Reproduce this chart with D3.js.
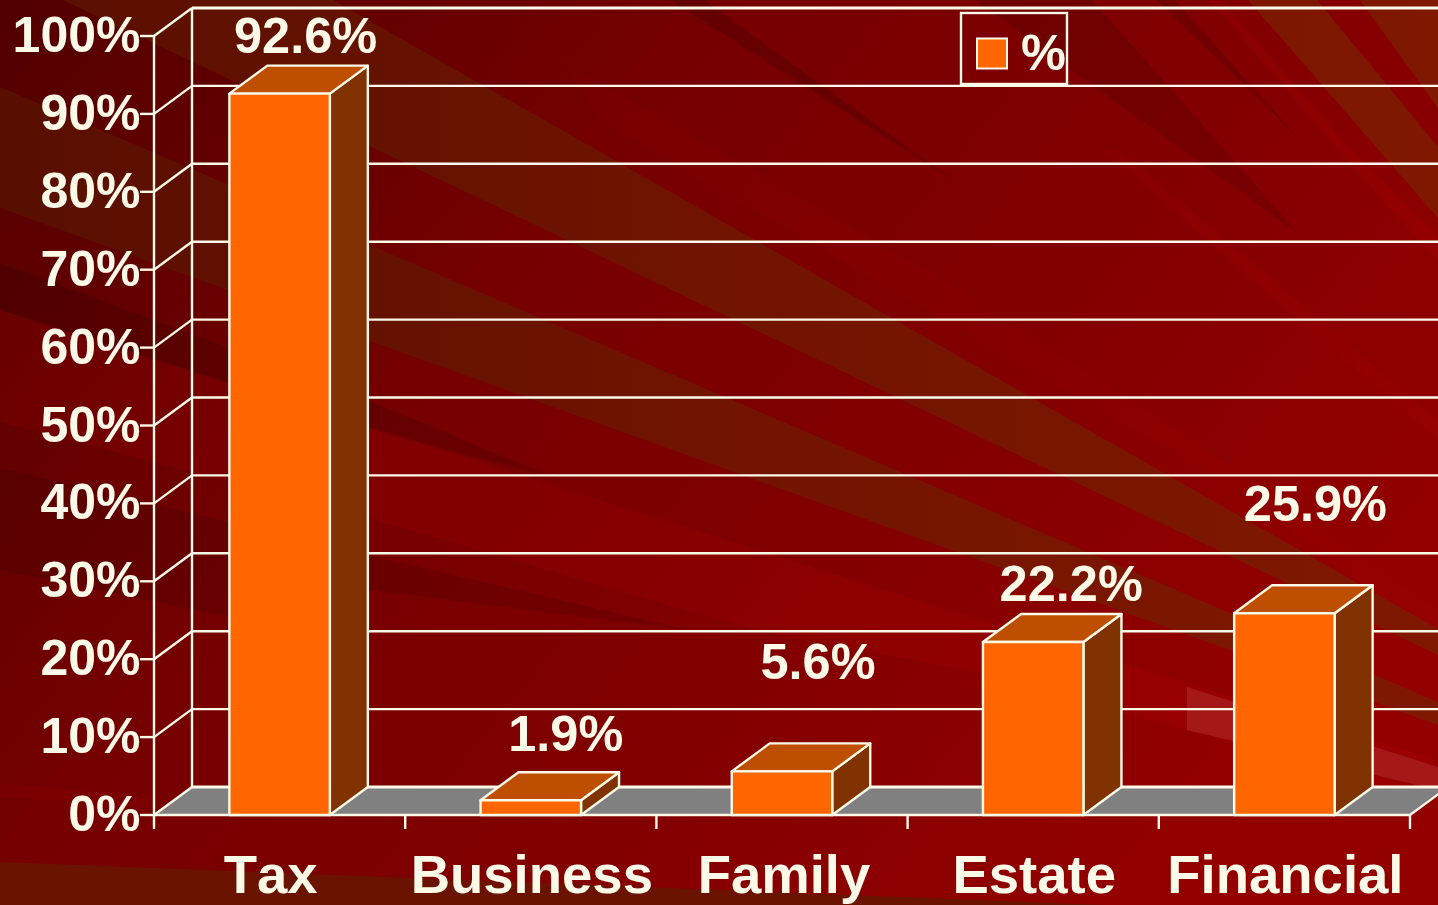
<!DOCTYPE html>
<html><head><meta charset="utf-8">
<script src="https://cdn.jsdelivr.net/npm/d3@7/dist/d3.min.js"></script>
<style>html,body{margin:0;padding:0;background:#700000;overflow:hidden}svg{display:block}
text{font-family:"Liberation Sans",Arial,sans-serif;font-weight:bold;fill:#fbf9e8;font-kerning:none}</style>
</head><body><svg id="c" width="1438" height="905"></svg>
<script>
// ---- data
const categories = ["Tax","Business","Family","Estate","Financial"];
const values = [92.6,1.9,5.6,22.2,25.9];
const valueLabels = ["92.6%","1.9%","5.6%","22.2%","25.9%"];
const yTicks = [0,10,20,30,40,50,60,70,80,90,100];
const legendLabel = "%";
// ---- label placement (hand offsets, as in the original)
const valueLabelDx = [26,35,36,38,31];
const valueLabelDy = [-41,-49,-92,-41,-92];
const categoryLabelDx = [-9,1,2,1,1];
// ---- background decoration
const oliveBands = [
  [[333,0],[1438,629],[1438,655],[63,0]],
  [[0,87],[1438,702],[1438,725],[0,208]],
  [[1248,0],[1317,0],[1438,147],[1438,218]],
  [[1360,0],[1438,0],[1438,108]]
];
const floorWedge = [[0,862],[1105,905],[0,905]];
const brightBands = [
  {p:[[0,310],[368,427],[980,620],[1438,760],[1438,800],[980,673],[755,630],[368,518],[0,422]],f:"#ff0000",o:0.075},
  {p:[[560,60],[960,290],[1230,465],[1438,610],[1438,640],[1220,478],[960,330],[600,120]],f:"#ff0000",o:0.03},
  {p:[[1209,0],[1222,0],[1347,145],[1438,236],[1438,262],[1347,160]],f:"#ff0000",o:0.07},
  {p:[[1103,150],[1120,150],[1438,420],[1438,440]],f:"#ff0000",o:0.05},
  {p:[[0,783],[152,797],[152,807],[0,797]],f:"#ff0000",o:0.05},
  {p:[[1187,687],[1438,767],[1438,790],[1187,730]],f:"#a41818",o:1}
];
const darkBands = [
  {p:[[670,0],[704,0],[960,185]],f:"#000000",o:0.14},
  {p:[[975,0],[1092,0],[1300,235]],f:"#000000",o:0.1},
  {p:[[1157,0],[1175,0],[1300,140]],f:"#000000",o:0.12},
  {p:[[0,263],[368,400],[560,480],[368,428],[0,310]],f:"#000000",o:0.13},
  {p:[[0,468],[368,555],[688,630],[368,590],[230,617],[0,570]],f:"#000000",o:0.11}
];

const W=1438,H=905,depthX=38,depthY=-28;
const cream="#fbf9e8", front="#ff6600", topC="#bf4f00", sideC="#803300", floorC="#808080";
const svg=d3.select("#c");
const defs=svg.append("defs");
const baseG=defs.append("linearGradient").attr("id","base").attr("gradientUnits","userSpaceOnUse")
  .attr("x1",0).attr("y1",0).attr("x2",1100).attr("y2",900);
[[0,"#520000"],[0.23,"#660000"],[0.4,"#760000"],[0.65,"#800000"],[1,"#920000"]]
  .forEach(s=>baseG.append("stop").attr("offset",s[0]).attr("stop-color",s[1]));
const olG=defs.append("linearGradient").attr("id","olive").attr("gradientUnits","userSpaceOnUse")
  .attr("x1",0).attr("y1",0).attr("x2",1438).attr("y2",0);
[[0,"#580f00"],[0.5,"#711400"],[1,"#801800"]].forEach(s=>olG.append("stop").attr("offset",s[0]).attr("stop-color",s[1]));

const poly=p=>"M"+p.map(d=>d.join(",")).join("L")+"Z";
const bg=svg.append("g");
bg.append("rect").attr("width",W).attr("height",H).attr("fill","url(#base)");
bg.selectAll(".b").data(brightBands).join("path").attr("class","b").attr("d",d=>poly(d.p)).attr("fill",d=>d.f).attr("opacity",d=>d.o);
bg.selectAll(".d").data(darkBands).join("path").attr("class","d").attr("d",d=>poly(d.p)).attr("fill",d=>d.f).attr("opacity",d=>d.o);
bg.selectAll(".o").data(oliveBands).join("path").attr("class","o").attr("d",poly).attr("fill","url(#olive)");
bg.append("path").attr("d",poly(floorWedge)).attr("fill","#6a1300");

// ---- scales
const x=d3.scaleBand().domain(categories).range([154,1410]).padding(0);
const y=d3.scaleLinear().domain([0,100]).range([815,36]);
const x0=x.range()[0], x1=x.range()[1], y0=y(0), yTop=y(100);
const barW=x.bandwidth()*0.4;
const sw=2.4;

// ---- floor
svg.append("path").attr("d",poly([[x0,y0],[x0+depthX,y0+depthY],[x1+depthX,y0+depthY],[x1,y0]]))
  .attr("fill",floorC);

const line=(g,a,b,c,d,w=sw)=>g.append("line").attr("x1",a).attr("y1",b).attr("x2",c).attr("y2",d)
  .attr("stroke",cream).attr("stroke-width",w);
const grid=svg.append("g");
grid.selectAll(".g").data(yTicks).join("line").attr("class","g")
  .attr("x1",x0+depthX).attr("x2",x1+depthX+40)
  .attr("y1",d=>y(d)+depthY).attr("y2",d=>y(d)+depthY)
  .attr("stroke",cream).attr("stroke-width",d=>d===100||d===0?3:sw);
grid.selectAll(".s").data(yTicks).join("line").attr("class","s")
  .attr("x1",x0).attr("x2",x0+depthX)
  .attr("y1",d=>y(d)).attr("y2",d=>y(d)+depthY)
  .attr("stroke",cream).attr("stroke-width",sw);
line(grid,x0+depthX,yTop+depthY,x0+depthX,y0+depthY);
line(grid,x0,yTop,x0,y0+14);
line(grid,x0,y0,x1,y0);
line(grid,x1,y0,x1+depthX,y0+depthY);
grid.selectAll(".tick").data(yTicks).join("line").attr("class","tick")
  .attr("x1",x0-14).attr("x2",x0)
  .attr("y1",d=>y(d)).attr("y2",d=>y(d))
  .attr("stroke",cream).attr("stroke-width",sw);
grid.selectAll(".xtick").data(categories).join("line").attr("class","xtick")
  .attr("x1",d=>x(d)+x.bandwidth()).attr("x2",d=>x(d)+x.bandwidth())
  .attr("y1",y0).attr("y2",y0+14)
  .attr("stroke",cream).attr("stroke-width",sw);

// ---- bars
const bars=svg.append("g").selectAll("g").data(categories.map((c,i)=>({c,i,v:values[i]}))).join("g")
  .attr("stroke",cream).attr("stroke-width",sw).attr("stroke-linejoin","round");
const L=d=>x(d.c)+(x.bandwidth()-barW)/2, R=d=>L(d)+barW;
bars.append("path").attr("fill",sideC).attr("d",d=>poly([[R(d),y(d.v)],[R(d)+depthX,y(d.v)+depthY],[R(d)+depthX,y0+depthY],[R(d),y0]]));
bars.append("path").attr("fill",topC).attr("d",d=>poly([[L(d),y(d.v)],[L(d)+depthX,y(d.v)+depthY],[R(d)+depthX,y(d.v)+depthY],[R(d),y(d.v)]]));
bars.append("path").attr("fill",front).attr("d",d=>poly([[L(d),y(d.v)],[R(d),y(d.v)],[R(d),y0],[L(d),y0]]));

// ---- text
svg.append("g").selectAll("text").data(yTicks).join("text")
  .attr("x",140.5).attr("y",d=>y(d)+16).attr("text-anchor","end").attr("font-size",50)
  .text(d=>d+"%");
svg.append("g").selectAll("text").data(valueLabels).join("text")
  .attr("x",(d,i)=>x(categories[i])+x.bandwidth()/2+valueLabelDx[i])
  .attr("y",(d,i)=>y(values[i])+valueLabelDy[i])
  .attr("text-anchor","middle").attr("font-size",50.5).text(d=>d);
svg.append("g").selectAll("text").data(categories).join("text")
  .attr("x",(d,i)=>x(d)+x.bandwidth()/2+categoryLabelDx[i]).attr("y",893)
  .attr("text-anchor","middle").attr("font-size",54.5).text(d=>d);

// ---- legend
const lg=svg.append("g");
lg.append("rect").attr("x",961).attr("y",13).attr("width",106).attr("height",71)
  .attr("fill","none").attr("stroke",cream).attr("stroke-width",2.4);
lg.append("rect").attr("x",977).attr("y",38.5).attr("width",30).attr("height",30)
  .attr("fill",front).attr("stroke",cream).attr("stroke-width",2);
lg.append("text").attr("x",1021).attr("y",70).attr("font-size",50.5).text(legendLabel);
</script></body></html>
